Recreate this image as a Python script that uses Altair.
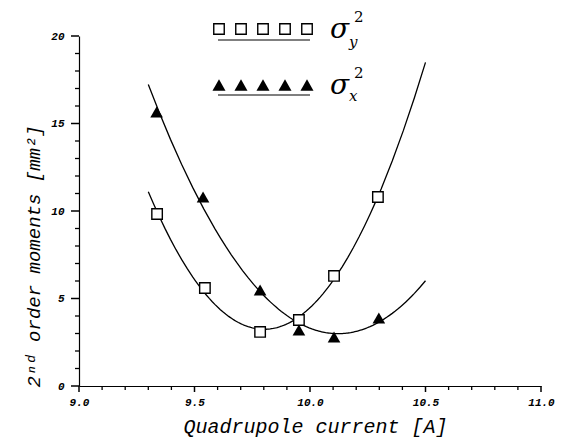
import altair as alt
import pandas as pd

# --- data ---
current_sq = [9.338, 9.545, 9.784, 9.952, 10.104, 10.294]
sigma_y2 = [9.83, 5.60, 3.09, 3.77, 6.29, 10.80]
current_tr = [9.336, 9.537, 9.784, 9.952, 10.104, 10.298]
sigma_x2 = [15.66, 10.80, 5.49, 3.20, 2.80, 3.89]
fit_extent = [9.3, 10.5]

x_major = [9.0, 9.5, 10.0, 10.5, 11.0]
x_minor = [9.1, 9.2, 9.3, 9.4, 9.6, 9.7, 9.8, 9.9,
           10.1, 10.2, 10.3, 10.4, 10.6, 10.7, 10.8, 10.9]
y_major = [0, 5, 10, 15, 20]
y_minor = [1, 2, 3, 4, 6, 7, 8, 9, 11, 12, 13, 14, 16, 17, 18, 19]

df_sq = pd.DataFrame({"current": current_sq, "moment": sigma_y2})
df_tr = pd.DataFrame({"current": current_tr, "moment": sigma_x2})
one = pd.DataFrame({"a": [0]})

LABEL_FONT = "Liberation Mono"
TITLE_FONT = "Liberation Mono"

x_scale = alt.Scale(domain=[9, 11], nice=False, zero=False)
y_scale = alt.Scale(domain=[0, 20], nice=False)

x_enc = alt.X(
    "current:Q", scale=x_scale,
    axis=alt.Axis(
        orient="bottom", values=x_major, format=".1f", ticks=False,
        labelPadding=10, labelOverlap=False,
        labelFont=LABEL_FONT, labelFontSize=11, labelFontWeight="bold", labelFontStyle="italic",
        labelColor="black", labelFlush=False,
        title="Quadrupole current [A]",
        titleFont=TITLE_FONT, titleFontSize=20, titleFontStyle="italic", titleFontWeight="normal",
        titleColor="black", titleAnchor="middle", titleAlign="center", titleBaseline="alphabetic",
        titleX=236, titleY=46,
        grid=False,
    ),
)
y_enc = alt.Y(
    "moment:Q", scale=y_scale,
    axis=alt.Axis(
        orient="left", values=y_major, ticks=False,
        labelPadding=15, labelOverlap=False,
        labelFont=LABEL_FONT, labelFontSize=11, labelFontWeight="bold", labelFontStyle="italic",
        labelColor="black",
        title="2ⁿᵈ order moments [mm²]",
        titleFont=TITLE_FONT, titleFontSize=19, titleFontStyle="italic", titleFontWeight="normal",
        titleColor="black", titleAngle=270, titleAlign="left", titleBaseline="alphabetic",
        titleX=-40, titleY=351,
        grid=False,
    ),
)

sq_fit = alt.Chart(df_sq).transform_regression(
    "current", "moment", method="poly", order=2, extent=fit_extent
).mark_line(color="black", strokeWidth=1.3).encode(x=x_enc, y=y_enc)
tr_fit = alt.Chart(df_tr).transform_regression(
    "current", "moment", method="poly", order=2, extent=fit_extent
).mark_line(color="black", strokeWidth=1.3).encode(x="current:Q", y="moment:Q")

sq_pts = alt.Chart(df_sq).mark_point(
    shape="square", filled=True, fill="white", stroke="black", strokeWidth=1.4, size=110, opacity=1
).encode(x="current:Q", y="moment:Q")
tr_pts = alt.Chart(df_tr).mark_point(
    shape="triangle-up", filled=True, color="black", size=160, opacity=1
).encode(x="current:Q", y="moment:Q")

# axis ticks as tick marks positioned through the shared scales
y_major_ticks = alt.Chart(pd.DataFrame({"moment": y_major})).mark_tick(
    color="black", thickness=1.5, size=8, orient="horizontal", xOffset=-4, opacity=1
).encode(y="moment:Q", x=alt.value(0))
y_minor_ticks = alt.Chart(pd.DataFrame({"moment": y_minor})).mark_tick(
    color="black", thickness=1.3, size=4, orient="horizontal", xOffset=-2, opacity=1
).encode(y="moment:Q", x=alt.value(0))
x_major_ticks = alt.Chart(pd.DataFrame({"current": x_major})).mark_tick(
    color="black", thickness=1.5, size=6, orient="vertical", yOffset=3, opacity=1
).encode(x="current:Q", y=alt.value(350))
x_minor_ticks = alt.Chart(pd.DataFrame({"current": x_minor})).mark_tick(
    color="black", thickness=1.3, size=4, orient="vertical", yOffset=2, opacity=1
).encode(x="current:Q", y=alt.value(350))

# --- custom legend (decoration) ---
legend_layers = []
for i in range(5):
    legend_layers.append(
        alt.Chart(one).mark_point(shape="square", filled=True, fill="white", stroke="black",
                                  strokeWidth=1.4, size=110, opacity=1)
        .encode(x=alt.value(219 - 79 + 22 * i), y=alt.value(29 - 36))
    )
    legend_layers.append(
        alt.Chart(one).mark_point(shape="triangle-up", filled=True, color="black", size=170, opacity=1)
        .encode(x=alt.value(219 - 79 + 22 * i), y=alt.value(85 - 36))
    )
legend_layers.append(
    alt.Chart(one).mark_rule(color="black", strokeWidth=1.2)
    .encode(x=alt.value(218 - 79), x2=alt.value(310 - 79), y=alt.value(40 - 36))
)
legend_layers.append(
    alt.Chart(one).mark_rule(color="black", strokeWidth=1.2)
    .encode(x=alt.value(218 - 79), x2=alt.value(310 - 79), y=alt.value(95 - 36))
)

def txt(s, x, y, size, style="italic", font="DejaVu Serif"):
    return alt.Chart(one).mark_text(
        text=s, font=font, fontSize=size, fontStyle=style, align="left", baseline="alphabetic",
        color="black"
    ).encode(x=alt.value(x - 79), y=alt.value(y - 36))

legend_layers += [
    txt("σ", 330, 38, 28),
    txt("y", 349, 47, 15),
    txt("2", 354, 22, 15, style="normal"),
    txt("σ", 330, 94, 28),
    txt("x", 349, 101, 15),
    txt("2", 354, 78, 15, style="normal"),
]

chart = alt.layer(
    sq_fit, tr_fit, sq_pts, tr_pts,
    y_major_ticks, y_minor_ticks, x_major_ticks, x_minor_ticks,
    *legend_layers
).properties(
    width=462, height=350,
    autosize=alt.AutoSizeParams(type="none"),
    padding={"left": 79, "top": 36, "right": 20, "bottom": 53},
).configure_view(stroke=None).configure_axis(
    domainColor="black", domainWidth=1.2
)

chart.save("out.html", embed_options={"renderer": "svg", "actions": False})
